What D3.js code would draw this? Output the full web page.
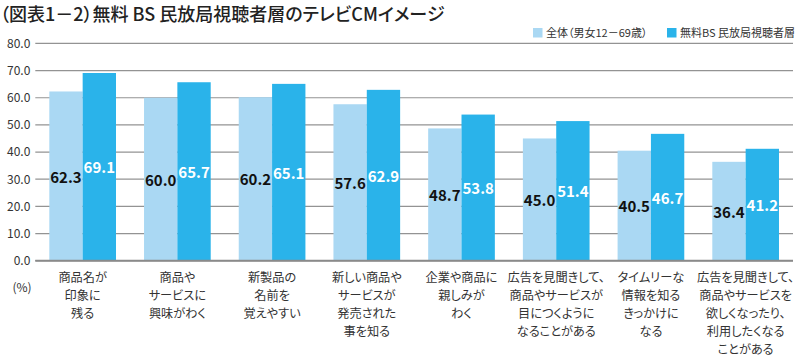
<!DOCTYPE html>
<html><head><meta charset="utf-8">
<script src="https://cdn.jsdelivr.net/npm/d3@7"></script>
<style>body{margin:0;background:#fff}svg{display:block}text{font-family:"Noto Sans CJK JP","Noto Sans",sans-serif;font-feature-settings:"palt"}</style>
</head><body><svg id="c" width="800" height="357"></svg>
<script>
const categories = [
  ["商品名が","印象に","残る"],
  ["商品や","サービスに","興味がわく"],
  ["新製品の","名前を","覚えやすい"],
  ["新しい商品や","サービスが","発売された","事を知る"],
  ["企業や商品に","親しみが","わく"],
  ["広告を見聞きして、","商品やサービスが","目につくように","なることがある"],
  ["タイムリーな","情報を知る","きっかけに","なる"],
  ["広告を見聞きして、","商品やサービスを","欲しくなったり、","利用したくなる","ことがある"]
];
const seriesNames = ["全体（男女12－69歳）","無料BS 民放局視聴者層"];
const overall = [62.3,60.0,60.2,57.6,48.7,45.0,40.5,36.4];
const bsViewers = [69.1,65.7,65.1,62.9,53.8,51.4,46.7,41.2];
const yTicks = [0,10,20,30,40,50,60,70,80];
const title = "（図表1－2）無料 BS 民放局視聴者層のテレビCMイメージ";
const unitLabel = "(%)";

const colors = ["#aad8f3","#2ab3ea"];
const svg = d3.select("#c");
const mL = 35.3, mR = 793, mT = 43.4, mB = 260.7;
const x = d3.scaleBand().domain(d3.range(categories.length)).range([mL,mR]).paddingInner(0.296).paddingOuter(0.148);
const xs = d3.scaleBand().domain([0,1]).range([0,x.bandwidth()]);
const y = d3.scaleLinear().domain([0,80]).range([mB,mT]);

svg.append("text").attr("x",0).attr("y",21).attr("font-size",18).attr("font-weight",500).attr("fill","#222").text(title);

const g = svg.append("g");
g.selectAll("line.grid").data(yTicks).join("line")
  .attr("x1",mL).attr("x2",mR).attr("y1",d=>y(d)).attr("y2",d=>y(d))
  .attr("stroke","#939393").attr("stroke-width",1.2);
const yAxis = d3.axisLeft(y).tickValues(yTicks).tickFormat(d3.format(".1f")).tickSize(0).tickPadding(5);
const ya = svg.append("g").attr("transform",`translate(${mL},0)`).call(yAxis);
ya.select(".domain").remove();
ya.selectAll("text").attr("font-size",12).attr("fill","#333").attr("font-family","Lato, sans-serif");

const data = categories.map((c,i)=>({i, vals:[overall[i], bsViewers[i]]}));
const grp = svg.selectAll("g.grp").data(data).join("g").attr("class","grp").attr("transform",d=>`translate(${x(d.i)},0)`);
grp.selectAll("rect").data(d=>d.vals.map((v,k)=>({v,k}))).join("rect")
  .attr("x",d=>xs(d.k)).attr("width",xs.bandwidth())
  .attr("y",d=>y(d.v)).attr("height",d=>y(0)-y(d.v)).attr("fill",d=>colors[d.k]);
svg.append("line").attr("x1",mL).attr("x2",mR).attr("y1",y(0)).attr("y2",y(0)).attr("stroke","#8a8a8a").attr("stroke-width",2);

grp.selectAll("text.val").data(d=>d.vals.map((v,k)=>({v,k}))).join("text")
  .attr("class","val")
  .attr("x",d=>xs(d.k)+xs.bandwidth()/2).attr("y",d=>y(d.v/2))
  .attr("text-anchor","middle").attr("dominant-baseline","central")
  .attr("font-size",15).attr("font-weight",700).attr("font-family","Lato, sans-serif")
  .attr("fill",d=>d.k===0?"#111":"#fff")
  .text(d=>d.v.toFixed(1));

grp.each(function(d){
  const t = d3.select(this).append("text").attr("text-anchor","middle").attr("font-size",12.2).attr("fill","#333");
  categories[d.i].forEach((line,j)=>{
    t.append("tspan").attr("x",x.bandwidth()/2).attr("y",282+j*17.9).text(line);
  });
});

svg.append("text").attr("x",22).attr("y",292).attr("text-anchor","middle").attr("font-size",12).attr("fill","#333").text(unitLabel);

const legX = [533,667];
seriesNames.forEach((n,k)=>{
  svg.append("rect").attr("x",legX[k]).attr("y",28).attr("width",9.5).attr("height",9.5).attr("fill",colors[k]);
  svg.append("text").attr("x",legX[k]+13).attr("y",37).attr("font-size",11).attr("fill","#333").text(n);
});
</script></body></html>
